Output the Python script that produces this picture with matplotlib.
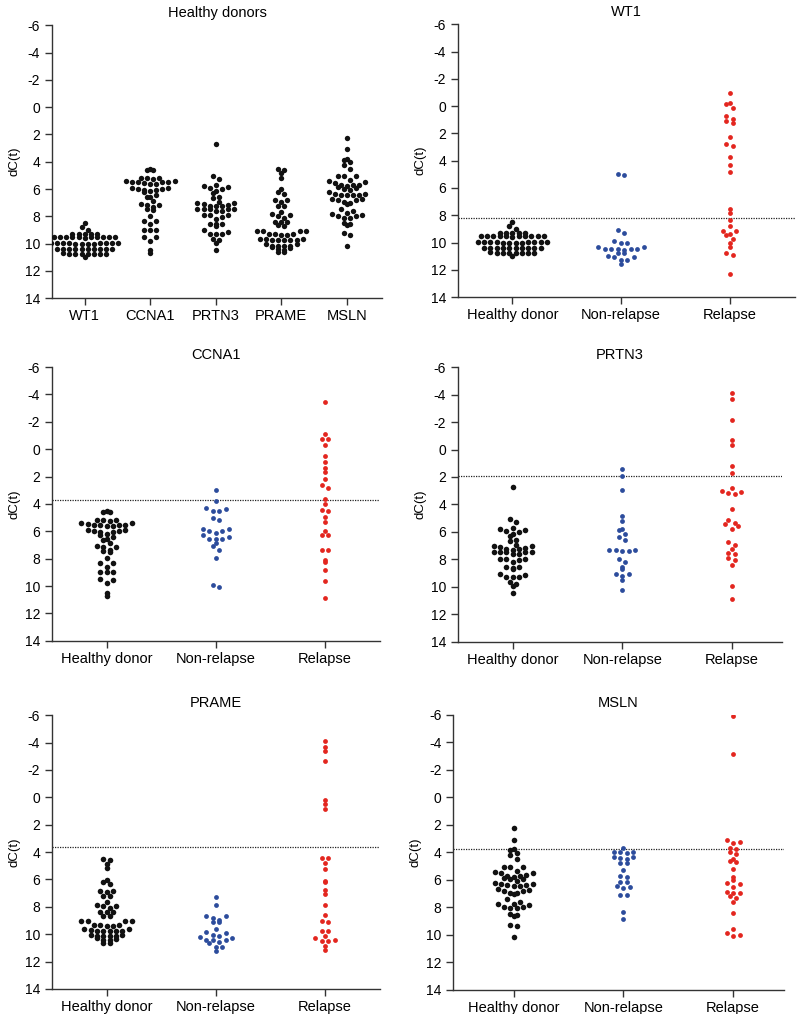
import numpy as np
import matplotlib
matplotlib.use("Agg")
import matplotlib.pyplot as plt

plt.rcParams['font.family'] = ['Liberation Sans', 'DejaVu Sans']
plt.rcParams['axes.unicode_minus'] = False

# --- healthy donors (shared between the overview panel and gene panels) ---
hd_wt1 = [8.48, 8.8, 8.97, 9.29, 9.29, 9.3, 9.28, 9.29,
          9.5, 9.52, 9.53, 9.54, 9.55, 9.56, 9.55, 9.54, 9.53, 9.52, 9.5,
          9.96, 9.97, 9.98, 9.99, 10.0, 10.01, 10.02, 10.0, 9.99, 9.98, 9.97, 9.96,
          10.37, 10.38, 10.39, 10.4, 10.41, 10.42, 10.4, 10.39, 10.38, 10.37,
          10.72, 10.74, 10.75, 10.76, 10.77, 10.75, 10.74, 10.73, 11.02]
hd_ccna1 = [4.5, 4.62, 4.62,
            5.16, 5.2, 5.4, 5.52, 5.52, 5.55, 5.52, 5.5, 5.4, 5.28, 5.16,
            5.64, 5.64, 5.89, 5.89, 6.0, 6.0, 6.08, 6.08,
            6.18, 6.25, 6.42, 6.55, 6.62,
            6.86, 7.1, 7.15, 7.15, 7.35, 7.47, 7.54, 7.96, 8.32, 8.32, 8.57,
            8.98, 9.0, 9.0, 9.49, 9.54, 9.79, 10.47, 10.69]
hd_prtn3 = [2.73, 5.03, 5.27, 5.68, 5.81, 5.83, 6.0, 5.93, 6.12, 6.29, 6.65, 6.56,
            6.97, 7.04, 7.09, 7.21, 7.28, 7.04, 7.14, 7.21,
            7.62, 7.48, 7.48, 7.48, 7.48, 7.48, 7.62,
            7.94, 7.94, 7.94, 8.18, 8.06,
            8.55, 8.55, 8.6, 8.7, 9.03, 9.27, 9.27, 9.15, 9.27,
            9.64, 9.76, 9.95, 10.44]
hd_prame = [4.52, 4.57, 4.86, 5.18, 6.03, 6.2, 6.35, 6.83, 6.95, 6.83, 7.24, 7.24,
            7.68, 7.85, 7.92, 7.97, 8.09, 8.39, 8.39, 8.39, 8.65, 8.7,
            9.07, 9.07, 9.07, 9.07, 9.31, 9.31, 9.38, 9.31, 9.38,
            9.63, 9.75, 9.75, 9.68, 9.75, 9.73, 9.73, 9.63, 10.04, 10.04,
            10.16, 10.16, 10.16, 10.16, 10.28, 10.36, 10.4, 10.45, 10.65, 10.65]
hd_msln = [2.27, 3.1, 3.78, 3.85, 4.02, 4.22, 4.51, 5.05, 5.05, 5.05,
           5.41, 5.53, 5.73, 5.8, 5.85, 5.73, 5.68, 5.48, 5.36,
           5.92, 5.97, 6.09, 6.21, 6.46, 6.41, 6.34, 6.34, 6.41, 6.46,
           6.7, 6.82, 6.82, 6.75, 7.07, 6.99, 6.94, 7.43,
           7.6, 7.8, 7.97, 8.09, 8.09, 7.97, 7.87, 7.75,
           8.48, 8.65, 8.58, 9.26, 9.38, 10.16]

# --- patients ---
nr_wt1 = [5.01, 5.08, 9.3, 9.1, 9.9, 10.0, 10.0, 10.3, 10.3,
          10.45, 10.5, 10.45, 10.5, 10.55, 10.45, 10.8, 10.8,
          11.05, 11.05, 11.0, 11.25, 11.25, 11.55]
rel_wt1 = [-1.0, -0.23, -0.13, 0.17, 0.75, 1.11, 1.2, 0.97, 2.26, 2.8, 2.9, 3.73,
           4.34, 4.83, 7.52, 7.84, 8.37, 8.79, 9.18, 9.16, 9.35, 9.48, 9.72,
           10.04, 10.33, 10.77, 10.94, 12.34]
nr_ccna1 = [2.97, 3.82, 4.35, 4.3, 4.55, 4.55, 5.04, 5.16, 6.13, 5.82, 6.0, 6.0,
            5.82, 6.25, 6.42, 6.57, 6.57, 6.57, 6.86, 7.1, 7.35, 7.96, 10.03, 9.91]
rel_ccna1 = [-3.42, -1.1, -0.74, -0.74, -0.32, 0.53, 0.94, 1.38, 1.7, 2.19, 2.65, 2.84,
             3.62, 4.01, 4.43, 4.5, 4.96, 5.35, 6.0, 6.25, 6.25, 7.35, 7.35, 8.08,
             8.25, 8.81, 9.62, 10.88]
nr_prtn3 = [1.44, 1.93, 2.97, 4.84, 5.2, 5.88, 5.76, 6.12, 6.36, 6.56, 7.28, 7.38,
            7.38, 7.33, 7.33, 7.94, 8.18, 8.67, 8.55, 9.08, 9.22, 9.08, 9.47, 10.24]
rel_prtn3 = [-4.11, -3.7, -2.17, -0.72, -0.3, 1.2, 1.71, 3.04, 3.16, 3.21, 3.09, 2.8,
             4.3, 5.1, 5.44, 5.35, 5.8, 5.58, 6.73, 6.92, 7.21, 7.58, 7.53, 7.87,
             8.06, 8.42, 9.95, 10.85]
nr_prame = [7.29, 7.85, 8.65, 8.82, 9.14, 9.14, 8.94, 8.7, 9.63, 9.92, 10.11, 10.09,
            9.87, 10.28, 10.4, 10.57, 10.65, 10.45, 10.21, 10.45, 10.94, 10.94, 11.21]
rel_prame = [-4.13, -3.4, -3.69, -2.67, 0.2, 0.49, 0.88, 4.4, 4.4, 4.77, 5.25, 6.2,
             6.1, 6.76, 7.05, 7.85, 9.02, 9.11, 8.63, 9.75, 9.75, 10.28, 10.52, 10.52,
             10.45, 10.16, 11.13, 10.89]
nr_msln = [3.71, 3.98, 4.03, 3.98, 3.98, 4.32, 4.32, 4.39, 4.51, 4.75, 4.75, 5.31,
           5.73, 5.78, 6.17, 6.17, 6.53, 6.58, 6.46, 7.14, 7.14, 8.35, 8.89]
rel_msln = [-5.9, -3.15, 3.25, 3.1, 3.29, 3.66, 3.73, 3.98, 4.15, 4.51, 4.71, 4.63,
            5.24, 5.78, 6.04, 6.29, 6.21, 6.51, 6.9, 6.99, 6.99, 7.31, 7.19, 7.6,
            8.4, 9.62, 9.91, 10.11, 10.04]

genes = ['WT1', 'CCNA1', 'PRTN3', 'PRAME', 'MSLN']
groups = ['Healthy donor', 'Non-relapse', 'Relapse']
cutoffs = [8.2, 3.7, 1.93, 3.6, 3.75]

C_HD, C_NR, C_REL = '#111111', '#2c4c9c', '#e3261f'


def swarm_x(ax, xc, vals, d=6.1, binw=0.4):
    # Prism-style scatter: values falling in the same horizontal band are laid
    # side by side, centre outwards, the largest value in the middle
    vals = np.asarray(vals, float)
    p = ax.transData.transform([(xc, 0), (xc + 1, 0)])
    step = d / (p[1, 0] - p[0, 0])
    bins = np.round(vals / binw).astype(int)
    xs = np.full(len(vals), float(xc))
    for b in np.unique(bins):
        idx = np.where(bins == b)[0]
        idx = idx[np.argsort(-vals[idx], kind='stable')]
        n = len(idx)
        slots = sorted(np.arange(n) - (n - 1) / 2, key=lambda s: (abs(s), -s))
        xs[idx] = xc + np.array(slots) * step
    return xs


def style(ax, title, labels, xlim):
    ax.set_xlim(*xlim)
    ax.set_ylim(14, -6)
    ax.set_yticks(np.arange(-6, 15, 2))
    ax.set_xticks(np.arange(1, len(labels) + 1))
    ax.set_xticklabels(labels, fontsize=10.5)
    ax.tick_params(axis='y', labelsize=10, length=5, width=1, color='#333333')
    ax.tick_params(axis='x', length=5, width=1, color='#333333', pad=3)
    for s in ['top', 'right']:
        ax.spines[s].set_visible(False)
    for s in ['left', 'bottom']:
        ax.spines[s].set_color('#333333')
        ax.spines[s].set_linewidth(1)
    ax.set_ylabel('dC(t)', fontsize=9.5, labelpad=3)
    ax.set_title(title, fontsize=10.5, pad=6)


fig = plt.figure(figsize=(7.98, 10.14), dpi=100)

# Overview of healthy donors
ax = fig.add_axes([0.065, 0.706, 0.414, 0.269])
style(ax, 'Healthy donors', genes, (0.5, 5.54))
for k, vals in enumerate([hd_wt1, hd_ccna1, hd_prtn3, hd_prame, hd_msln]):
    ax.scatter(swarm_x(ax, k + 1, vals), vals, s=15, color=C_HD, linewidths=0, zorder=3)

rects = [[0.574, 0.707, 0.422, 0.269], [0.065, 0.368, 0.411, 0.270],
         [0.574, 0.367, 0.406, 0.271], [0.065, 0.0247, 0.411, 0.270],
         [0.568, 0.024, 0.414, 0.271]]
xlims = [(0.5, 3.6), (0.5, 3.5), (0.5, 3.46), (0.5, 3.5), (0.45, 3.46)]
data = [(hd_wt1, nr_wt1, rel_wt1), (hd_ccna1, nr_ccna1, rel_ccna1),
        (hd_prtn3, nr_prtn3, rel_prtn3), (hd_prame, nr_prame, rel_prame),
        (hd_msln, nr_msln, rel_msln)]

for g, rect, xl, sets, cut in zip(genes, rects, xlims, data, cutoffs):
    ax = fig.add_axes(rect)
    style(ax, g, groups, xl)
    ax.axhline(cut, color='#222222', ls=(0, (1, 1)), lw=0.9, zorder=2)
    for k, (vals, col, sz, d) in enumerate(zip(sets, [C_HD, C_NR, C_REL],
                                               [16, 12, 12], [6.3, 6.5, 6.5])):
        ax.scatter(swarm_x(ax, k + 1, vals, d=d), vals, s=sz, color=col,
                   linewidths=0, zorder=3)

fig.savefig('out.png', dpi=100)
